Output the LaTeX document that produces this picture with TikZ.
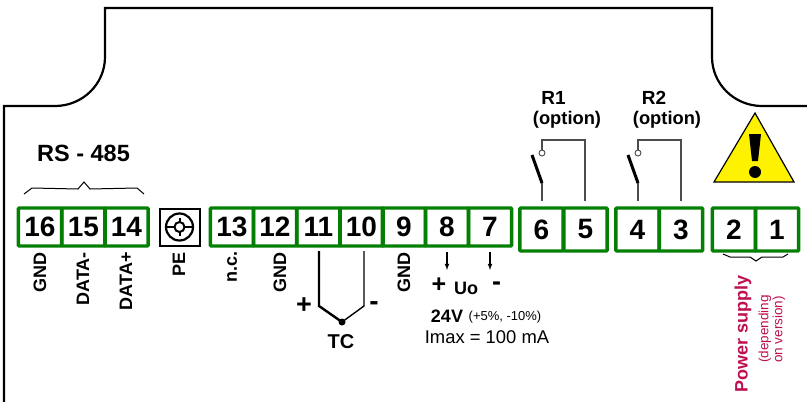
\documentclass[tikz,border=0pt]{standalone}
\usepackage{xcolor}
\usepackage{fontspec}
\setmainfont{Liberation Sans}
\definecolor{termgreen}{HTML}{038004}
\definecolor{supplyred}{HTML}{BE0F50}
\tikzset{
	termi/.style={draw=termgreen, line width=3.4pt, rounded corners=1pt, inner sep=0pt, font=\fontsize{28}{28}\selectfont\bfseries},
	sidelabel/.style={rotate=90, anchor=east, inner sep=0pt, font=\fontsize{18}{18}\selectfont\bfseries},
	boldlabel/.style={inner sep=0pt, font=\fontsize{#1}{#1}\selectfont\bfseries},
	pluslabel/.style={inner sep=0pt, font=\fontsize{#1}{#1}\selectfont},
	thinwire/.style={draw=black!70, line width=1.1pt},
}
\begin{document}
\begin{tikzpicture}[x=1pt,y=-1pt]
		% Parameters
		\def\toprow{208}
		\def\rowshort{38}
		\def\rowtall{43}
		\def\cellw{43.3}
		\def\relayi{542}
		\def\relayii{638}
		
		\useasboundingbox (0,0) rectangle (807,402);
		
		%housing
		\draw[line width=2.2pt] (4,402) -- (4,106) -- (55,106) .. controls (82.6,106) and (105,84) .. (105,57) -- (105,8) -- (712,8) -- (712,57) .. controls (712,84) and (734.4,106) .. (762,106) -- (807,106);
		
		%terminals
		\foreach \n/\x in {16/40,15/83.5,14/126.5,13/232,12/275,11/318.5,10/361.5,9/404,8/447,7/490} {
			\node[termi, minimum width=\cellw pt, minimum height=\rowshort pt] (t\n) at (\x,\toprow+19) {\n};
		}
		\foreach \n/\x in {6/541.5,5/585.5,4/637.5,3/681,2/734,1/777} {
			\node[termi, minimum width=\cellw pt, minimum height=\rowtall pt] (t\n) at (\x,\toprow+21.5) {\n};
		}
		
		%PE screw
		\node[draw, line width=2pt, minimum width=40pt, minimum height=37pt, inner sep=0pt] (pebox) at (179.5,227) {};
		\draw[line width=2.2pt] (pebox.center) circle (13.5);
		\draw[line width=2pt] (pebox.center) circle (5);
		\draw[line width=2pt] (166,227) -- (174.5,227) (184.5,227) -- (193,227);
		\draw[line width=2pt] (179.5,218) -- (179.5,222) (179.5,232) -- (179.5,236);
		
		%labels below
		\node[sidelabel] (lgnd16) at (40,252) {GND};
		\node[sidelabel] (ldatam) at (83,252) {DATA-};
		\node[sidelabel] (ldatap) at (126,252) {DATA+};
		\node[sidelabel] (lpe) at (179,252) {PE};
		\node[sidelabel] (lnc) at (232,251) {n.c.};
		\node[sidelabel] (lgnd12) at (280,252) {GND};
		\node[sidelabel] (lgnd9) at (404,252) {GND};
		
		\node[boldlabel=23.5] (lrs) at (83.5,153) {RS - 485};
		
		%RS brace
		\draw[black, line width=1pt] (24,194) -- (32,188) -- (78,189) -- (84,182) -- (90,189) -- (137,188) -- (144,194);
		
		%thermocouple
		\coordinate (tcjoint) at (342,322);
		\coordinate (tcplus) at (319,306);
		\coordinate (tcminus) at (364,306);
		\draw[line width=2.4pt] (319,251) -- (tcplus) -- (tcjoint);
		\draw[line width=1.4pt] (364,251) -- (tcminus) -- (tcjoint);
		\fill (tcjoint) circle (3.5);
		\node[boldlabel=27] (lplus) at (304,306) {+};
		\node[boldlabel=28] (lminus) at (374,306) {-};
		\node[boldlabel=20] (ltc) at (341,342) {TC};
		
		%output
		\coordinate (uoplusa) at (447,252);
		\coordinate (uoplusb) at (447,270);
		\coordinate (uominusa) at (490,252);
		\coordinate (uominusb) at (490,270);
		\draw[-latex, line width=1.1pt] (uoplusa) -- (uoplusb);
		\draw[-latex, line width=1.1pt] (uominusa) -- (uominusb);
		\node[boldlabel=25] (luoplus) at (439,285) {+};
		\node[boldlabel=18] (luo) at (466,288) {Uo};
		\node[boldlabel=27] (luominus) at (496.5,286) {-};
		\node[boldlabel=18] (lvolt) at (447,316) {24V};
		\node[pluslabel=13] (ltol) at (505,317) {(+5\%, -10\%)};
		\node[pluslabel=18.4] (limax) at (487,337) {Imax = 100 mA};
		
		%relays
		\foreach \x/\y/\r in {\relayi/585/i,\relayii/681/ii} {
			\coordinate (rel\r a) at (\x,201);
			\coordinate (rel\r b) at (\x,183);
			\coordinate (rel\r c) at (\x-10,155);
			\coordinate (rel\r d) at (\x,153);
			\coordinate (rel\r e) at (\x,140);
			\coordinate (rel\r f) at (\y,140);
			\coordinate (rel\r g) at (\y,201);
			\draw[thinwire] (rel\r a) -- (rel\r b);
			\draw[line width=3pt] (rel\r b) -- (rel\r c);
			\draw[thinwire] (rel\r d) -- (rel\r e) -- (rel\r f) -- (rel\r g);
			\draw[black!70, fill=white, line width=0.9pt] (rel\r d) circle (3);
		}
		\node[boldlabel=19] (lri) at (553.5,98) {R1};
		\node[boldlabel=18.3] (lopti) at (567,120) {(option)};
		\node[boldlabel=19] (lrii) at (654,98) {R2};
		\node[boldlabel=18.3] (loptii) at (667,120) {(option)};
		
		%warning
		\filldraw[fill=yellow, draw=black, line width=1.2pt] (755,113) -- (794,182) -- (714,182) -- cycle;
		\fill (749,134) -- (761,134) -- (758,161) -- (752,161) -- cycle;
		\fill (755,172) circle (6);
		
		%power supply
		\draw[black, line width=1pt] (723,254) -- (730,257) -- (750,257) -- (756,261) -- (762,257) -- (783,257) -- (788,254);
		\node[sidelabel, text=supplyred, font=\fontsize{18}{18}\selectfont\bfseries, anchor=west] (lpower) at (743,393) {Power supply};
		\node[sidelabel, text=supplyred, font=\fontsize{13.5}{13.5}\selectfont, anchor=west] (ldep) at (765,363) {(depending};
		\node[sidelabel, text=supplyred, font=\fontsize{13.5}{13.5}\selectfont, anchor=west] (lver) at (779,363) {on version)};
\end{tikzpicture}
\end{document}
